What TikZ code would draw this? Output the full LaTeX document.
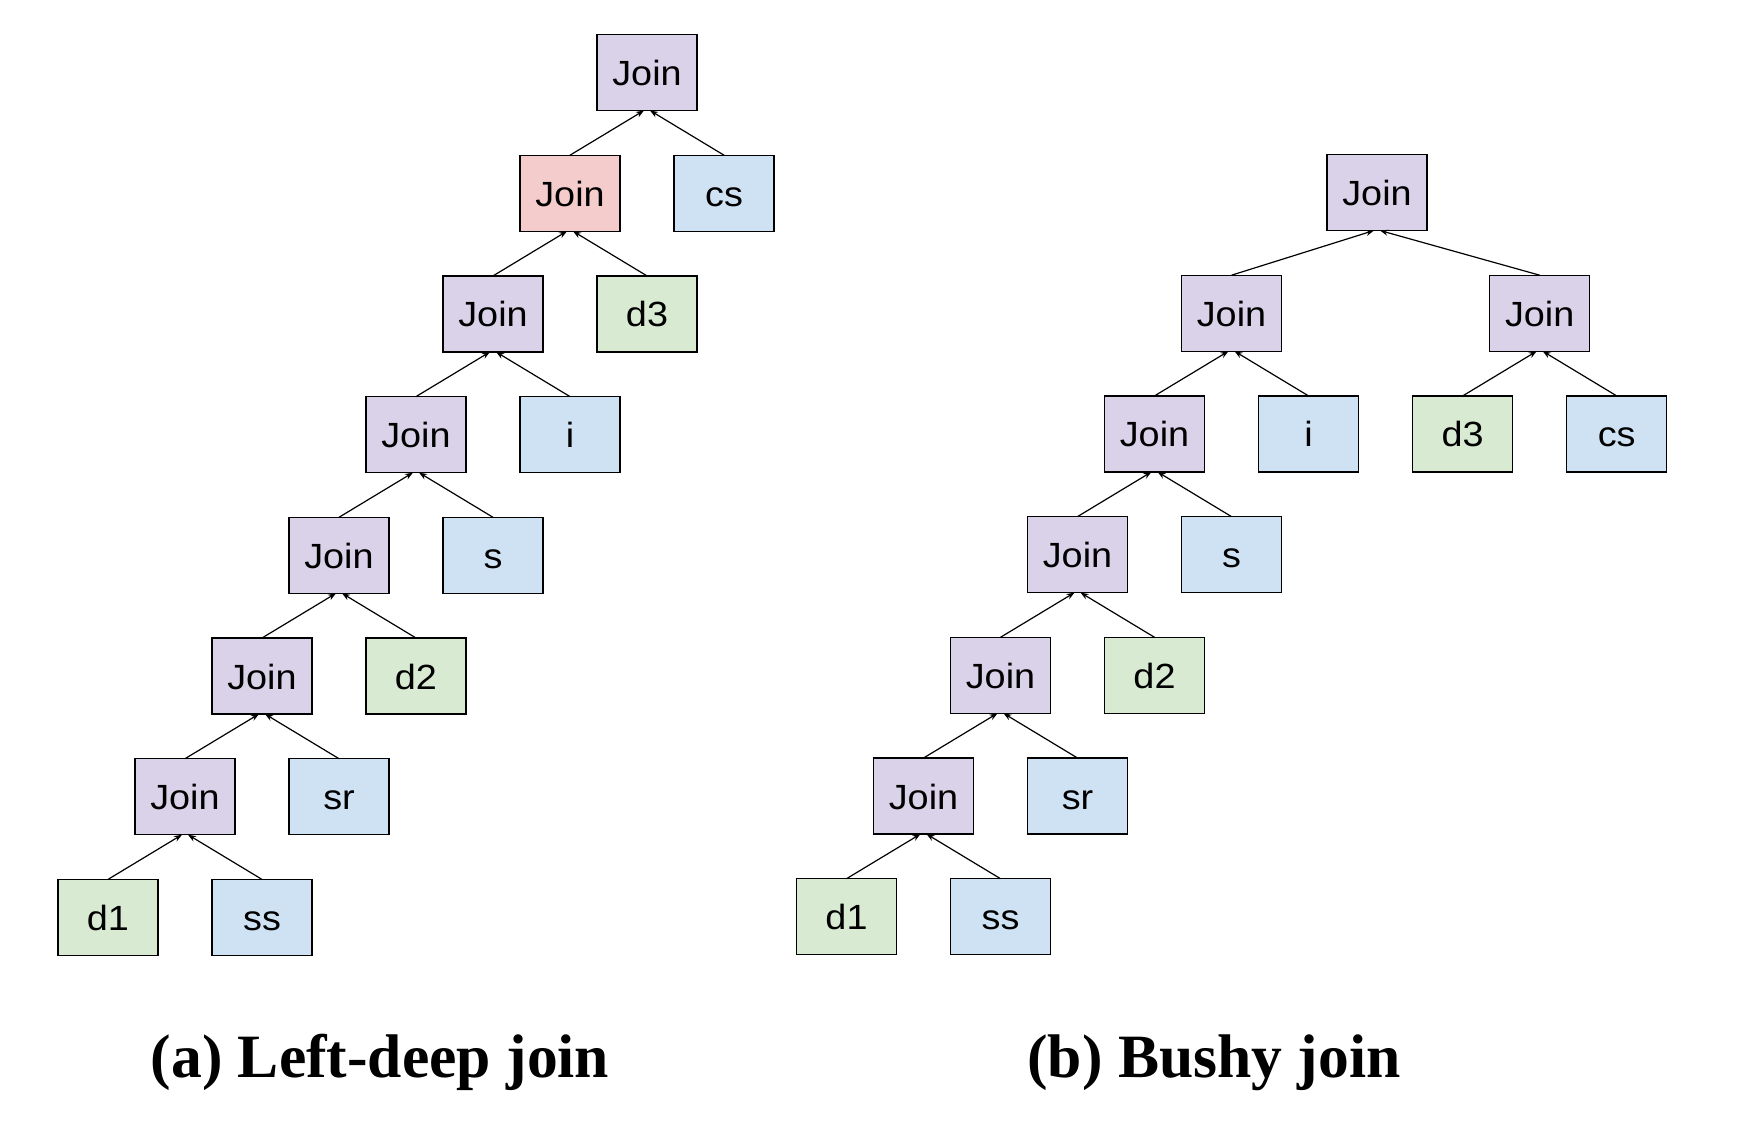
\documentclass[tikz,border=0pt]{standalone}
\usepackage{fontspec}
\usepackage{xcolor}
\usepackage{tikz}
\setmainfont{Liberation Serif}
\newfontfamily\boxfont[FakeStretch=1.08]{Liberation Sans}
\definecolor{joinpurple}{HTML}{D9D2E9}
\definecolor{joinred}{HTML}{F4CCCC}
\definecolor{tableblue}{HTML}{CFE2F3}
\definecolor{dimgreen}{HTML}{D9EAD3}
\usetikzlibrary{arrows.meta, positioning}

\begin{document}
\begin{tikzpicture}[
    node distance=22.35pt,
    box/.style={rectangle, draw=black, line width=0.65pt, outer sep=0pt,
                minimum width=50pt, minimum height=38pt, align=center,
                text height=13pt, text depth=0pt,
                font=\boxfont\fontsize{17.5}{20}\selectfont},
    joinbox/.style={box, fill=joinpurple},
    redbox/.style={box, fill=joinred},
    tablebox/.style={box, fill=tableblue},
    dimbox/.style={box, fill=dimgreen},
    caption/.style={anchor=base, font=\bfseries\fontsize{30.8}{37}\selectfont},
    arrow/.style={-{Stealth[length=4pt, width=3pt]}, line width=0.6pt}
]
    \useasboundingbox (0,0) rectangle (870pt,-562pt);

    % (a) left-deep tree
    \node[joinbox] (lroot) at (323.5pt,-36.25pt) {Join};
    \node[redbox, below=of lroot, xshift=-38.5pt] (lj1) {Join};
    \node[tablebox, below=of lroot, xshift=38.5pt] (lcs) {cs};
    \node[joinbox, below=of lj1, xshift=-38.5pt] (lj2) {Join};
    \node[dimbox, below=of lj1, xshift=38.5pt] (ld3) {d3};
    \node[joinbox, below=of lj2, xshift=-38.5pt] (lj3) {Join};
    \node[tablebox, below=of lj2, xshift=38.5pt] (li) {i};
    \node[joinbox, below=of lj3, xshift=-38.5pt] (lj4) {Join};
    \node[tablebox, below=of lj3, xshift=38.5pt] (ls) {s};
    \node[joinbox, below=of lj4, xshift=-38.5pt] (lj5) {Join};
    \node[dimbox, below=of lj4, xshift=38.5pt] (ld2) {d2};
    \node[joinbox, below=of lj5, xshift=-38.5pt] (lj6) {Join};
    \node[tablebox, below=of lj5, xshift=38.5pt] (lsr) {sr};
    \node[dimbox, below=of lj6, xshift=-38.5pt] (ld1) {d1};
    \node[tablebox, below=of lj6, xshift=38.5pt] (lss) {ss};

    \draw[arrow] (lj1.north) -- ([xshift=-1.5pt]lroot.south);
    \draw[arrow] (lcs.north) -- ([xshift=1.5pt]lroot.south);
    \draw[arrow] (lj2.north) -- ([xshift=-1.5pt]lj1.south);
    \draw[arrow] (ld3.north) -- ([xshift=1.5pt]lj1.south);
    \draw[arrow] (lj3.north) -- ([xshift=-1.5pt]lj2.south);
    \draw[arrow] (li.north) -- ([xshift=1.5pt]lj2.south);
    \draw[arrow] (lj4.north) -- ([xshift=-1.5pt]lj3.south);
    \draw[arrow] (ls.north) -- ([xshift=1.5pt]lj3.south);
    \draw[arrow] (lj5.north) -- ([xshift=-1.5pt]lj4.south);
    \draw[arrow] (ld2.north) -- ([xshift=1.5pt]lj4.south);
    \draw[arrow] (lj6.north) -- ([xshift=-1.5pt]lj5.south);
    \draw[arrow] (lsr.north) -- ([xshift=1.5pt]lj5.south);
    \draw[arrow] (ld1.north) -- ([xshift=-1.5pt]lj6.south);
    \draw[arrow] (lss.north) -- ([xshift=1.5pt]lj6.south);

    % (b) bushy tree
    \node[joinbox] (rroot) at (688.5pt,-96.25pt) {Join};
    \node[joinbox, below=of rroot, xshift=-72.75pt] (rj1) {Join};
    \node[joinbox, below=of rroot, xshift=81.35pt] (rjr) {Join};
    \node[dimbox, below=of rjr, xshift=-38.5pt] (rd3) {d3};
    \node[tablebox, below=of rjr, xshift=38.5pt] (rcs) {cs};
    \node[joinbox, below=of rj1, xshift=-38.5pt] (rj2) {Join};
    \node[tablebox, below=of rj1, xshift=38.5pt] (ri) {i};
    \node[joinbox, below=of rj2, xshift=-38.5pt] (rj3) {Join};
    \node[tablebox, below=of rj2, xshift=38.5pt] (rs) {s};
    \node[joinbox, below=of rj3, xshift=-38.5pt] (rj4) {Join};
    \node[dimbox, below=of rj3, xshift=38.5pt] (rd2) {d2};
    \node[joinbox, below=of rj4, xshift=-38.5pt] (rj5) {Join};
    \node[tablebox, below=of rj4, xshift=38.5pt] (rsr) {sr};
    \node[dimbox, below=of rj5, xshift=-38.5pt] (rd1) {d1};
    \node[tablebox, below=of rj5, xshift=38.5pt] (rss) {ss};

    \draw[arrow] (rj1.north) -- ([xshift=-1.5pt]rroot.south);
    \draw[arrow] (rjr.north) -- ([xshift=1.5pt]rroot.south);
    \draw[arrow] (rd3.north) -- ([xshift=-1.5pt]rjr.south);
    \draw[arrow] (rcs.north) -- ([xshift=1.5pt]rjr.south);
    \draw[arrow] (rj2.north) -- ([xshift=-1.5pt]rj1.south);
    \draw[arrow] (ri.north) -- ([xshift=1.5pt]rj1.south);
    \draw[arrow] (rj3.north) -- ([xshift=-1.5pt]rj2.south);
    \draw[arrow] (rs.north) -- ([xshift=1.5pt]rj2.south);
    \draw[arrow] (rj4.north) -- ([xshift=-1.5pt]rj3.south);
    \draw[arrow] (rd2.north) -- ([xshift=1.5pt]rj3.south);
    \draw[arrow] (rj5.north) -- ([xshift=-1.5pt]rj4.south);
    \draw[arrow] (rsr.north) -- ([xshift=1.5pt]rj4.south);
    \draw[arrow] (rd1.north) -- ([xshift=-1.5pt]rj5.south);
    \draw[arrow] (rss.north) -- ([xshift=1.5pt]rj5.south);

    % captions
    \node[caption] (capa) at (190pt,-538.5pt) {(a) Left-deep join};
    \node[caption] (capb) at (607pt,-538.5pt) {(b) Bushy join};
\end{tikzpicture}
\end{document}
